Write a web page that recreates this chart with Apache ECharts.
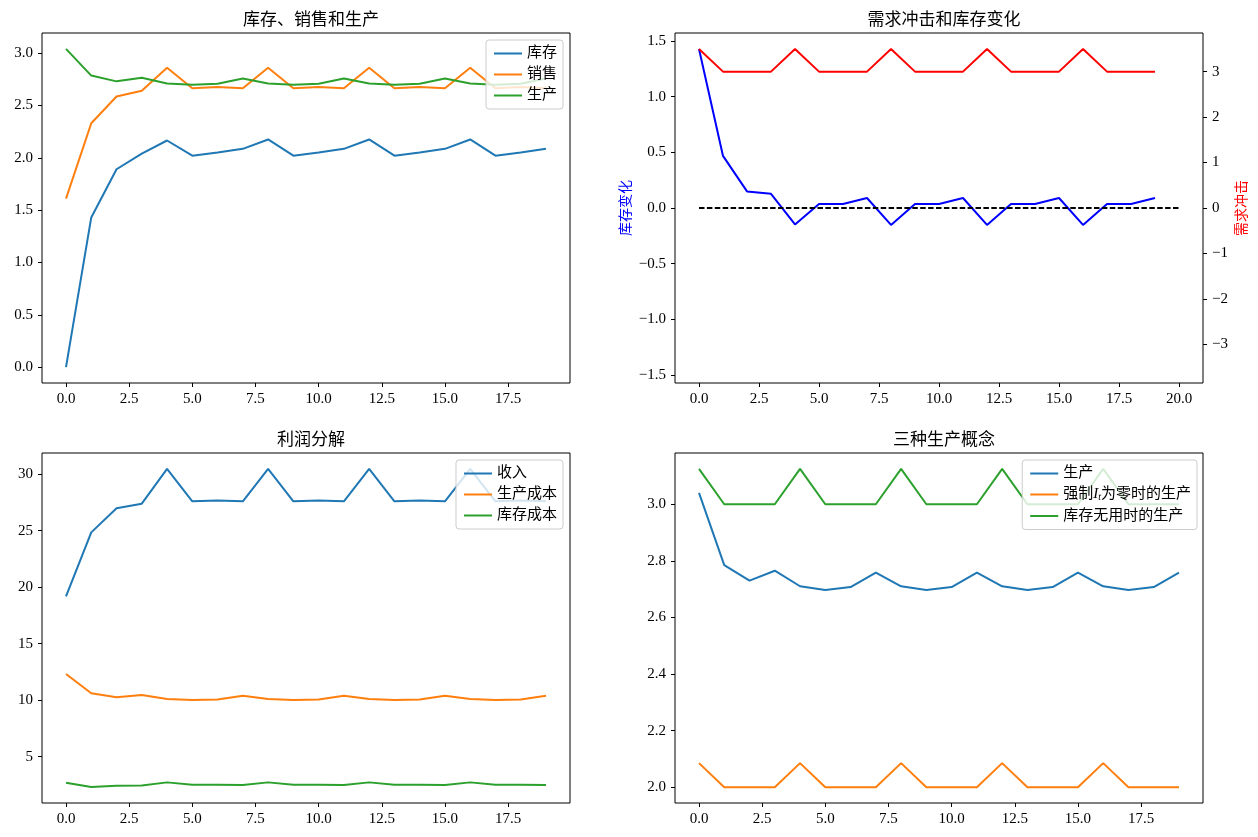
<!DOCTYPE html>
<html>
<head>
<meta charset="utf-8">
<script src="https://cdn.jsdelivr.net/npm/echarts@6/dist/echarts.min.js"></script>
<style>
    html, body { margin: 0; padding: 0; background: #fff; }
    #chart { width: 1258px; height: 837px; }
</style>
</head>
<body>
<div id="chart"></div>
<script>
// 时间轴
const periods = [0, 1, 2, 3, 4, 5, 6, 7, 8, 9, 10, 11, 12, 13, 14, 15, 16, 17, 18, 19];

// 库存、销售和生产
const inventory = [0, 1.43, 1.89, 2.04, 2.165, 2.02, 2.05, 2.085, 2.175, 2.02, 2.05, 2.085, 2.175, 2.02, 2.05, 2.085, 2.175, 2.02, 2.05, 2.085];
const sales = [1.61, 2.33, 2.585, 2.64, 2.86, 2.665, 2.675, 2.665, 2.86, 2.665, 2.675, 2.665, 2.86, 2.665, 2.675, 2.665, 2.86, 2.665, 2.675, 2.665];
const production = [3.04, 2.785, 2.73, 2.765, 2.71, 2.697, 2.707, 2.758, 2.71, 2.697, 2.707, 2.758, 2.71, 2.697, 2.707, 2.758, 2.71, 2.697, 2.707, 2.758];

// 需求冲击和库存变化
const inventoryChange = [1.43, 0.468, 0.149, 0.128, -0.148, 0.036, 0.036, 0.09, -0.152, 0.036, 0.036, 0.09, -0.152, 0.036, 0.036, 0.09, -0.152, 0.036, 0.036, 0.09];
const demandShock = [3.5, 3, 3, 3, 3.5, 3, 3, 3, 3.5, 3, 3, 3, 3.5, 3, 3, 3, 3.5, 3, 3, 3];
const zeroLineX = [0, 20];
const zeroLineY = [0, 0];

// 利润分解
const revenue = [19.17, 24.84, 26.97, 27.38, 30.45, 27.59, 27.65, 27.59, 30.45, 27.59, 27.65, 27.59, 30.45, 27.59, 27.65, 27.59, 30.45, 27.59, 27.65, 27.59];
const productionCost = [12.32, 10.61, 10.26, 10.46, 10.11, 10.02, 10.05, 10.40, 10.11, 10.02, 10.05, 10.40, 10.11, 10.02, 10.05, 10.40, 10.11, 10.02, 10.05, 10.40];
const inventoryCost = [2.70, 2.32, 2.43, 2.46, 2.73, 2.52, 2.52, 2.49, 2.73, 2.52, 2.52, 2.49, 2.73, 2.52, 2.52, 2.49, 2.73, 2.52, 2.52, 2.49];

// 三种生产概念
const prodZeroInventory = [2.085, 2, 2, 2, 2.085, 2, 2, 2, 2.085, 2, 2, 2, 2.085, 2, 2, 2, 2.085, 2, 2, 2];
const prodNoInventory = [3.125, 3, 3, 3, 3.125, 3, 3, 3, 3.125, 3, 3, 3, 3.125, 3, 3, 3, 3.125, 3, 3, 3];

// 刻度
const xTicks = [0, 2.5, 5, 7.5, 10, 12.5, 15, 17.5];
const xTicksShock = [0, 2.5, 5, 7.5, 10, 12.5, 15, 17.5, 20];
const yTicksStock = [0, 0.5, 1, 1.5, 2, 2.5, 3];
const yTicksChange = [-1.5, -1, -0.5, 0, 0.5, 1, 1.5];
const yTicksShock = [-3, -2, -1, 0, 1, 2, 3];
const yTicksProfit = [5, 10, 15, 20, 25, 30];
const yTicksProd = [2.0, 2.2, 2.4, 2.6, 2.8, 3.0];

const FONT = "'Liberation Serif', 'Noto Sans CJK SC', serif";
const C_BLUE = '#1f77b4', C_ORANGE = '#ff7f0e', C_GREEN = '#2ca02c';

const pairs = (xs, ys) => xs.map((x, i) => [x, ys[i]]);
const minus = v => String(v).replace('-', '\u2212');

function xAxis(gridIndex, min, max, ticks) {
    return {
        type: 'value', gridIndex, min, max,
        axisLine: { show: false, onZero: false },
        splitLine: { show: false },
        axisTick: { show: true, length: 4, customValues: ticks, lineStyle: { color: '#000' } },
        axisLabel: {
            customValues: ticks, margin: 9, color: '#000', fontSize: 15, fontFamily: FONT,
            formatter: v => v.toFixed(1)
        }
    };
}

function yAxis(gridIndex, min, max, ticks, fmt, extra) {
    return Object.assign({
        type: 'value', gridIndex, min, max,
        axisLine: { show: false, onZero: false },
        splitLine: { show: false },
        axisTick: { show: true, length: 4, customValues: ticks, lineStyle: { color: '#000' } },
        axisLabel: {
            customValues: ticks, margin: 9, color: '#000', fontSize: 15, fontFamily: FONT,
            formatter: fmt
        }
    }, extra || {});
}

function line(name, xi, yi, ys, color, extra) {
    return Object.assign({
        name, type: 'line', xAxisIndex: xi, yAxisIndex: yi,
        data: pairs(periods, ys), symbol: 'none', showSymbol: false,
        lineStyle: { color, width: 2 }, itemStyle: { color }
    }, extra || {});
}

const legendLabels = {
    '生产B': '生产',
    '强制为零': '强制{it|I}{sub|t}为零时的生产',
    '库存无用': '库存无用时的生产'
};

function legend(data, right, top) {
    return {
        data, orient: 'vertical', right, top,
        icon: 'rect', itemWidth: 28, itemHeight: 2, itemGap: 6,
        padding: [6, 6, 6, 8],
        backgroundColor: 'rgba(255,255,255,0.8)',
        borderColor: '#cccccc', borderWidth: 1, borderRadius: 3,
        selectedMode: false,
        textStyle: {
            fontSize: 15, fontFamily: FONT, color: '#000', lineHeight: 15,
            rich: {
                it: { fontSize: 15, fontStyle: 'italic', fontFamily: FONT, color: '#000' },
                sub: { fontSize: 10, fontStyle: 'italic', fontFamily: FONT, color: '#000', padding: [6, 0, 0, 0] }
            }
        },
        formatter: name => legendLabels[name] || name
    };
}

const titleStyle = { fontSize: 17, fontWeight: 'normal', fontFamily: FONT, color: '#000' };

const grids = [
    { left: 42, top: 33, width: 528, height: 350 },
    { left: 675, top: 33, width: 528, height: 350 },
    { left: 42, top: 453, width: 528, height: 350 },
    { left: 675, top: 453, width: 528, height: 350 }
].map(g => Object.assign(g, { show: true, borderColor: '#000', borderWidth: 1, backgroundColor: 'transparent' }));

const option = {
    animation: false,
    backgroundColor: '#fff',
    title: [
        { text: '库存、销售和生产', left: 306, top: 7, textAlign: 'center', textStyle: titleStyle },
        { text: '需求冲击和库存变化', left: 939, top: 7, textAlign: 'center', textStyle: titleStyle },
        { text: '利润分解', left: 306, top: 427, textAlign: 'center', textStyle: titleStyle },
        { text: '三种生产概念', left: 939, top: 427, textAlign: 'center', textStyle: titleStyle }
    ],
    grid: grids,
    xAxis: [
        xAxis(0, -0.95, 19.95, xTicks),
        xAxis(1, -1, 21, xTicksShock),
        xAxis(2, -0.95, 19.95, xTicks),
        xAxis(3, -0.95, 19.95, xTicks)
    ],
    yAxis: [
        yAxis(0, -0.152, 3.192, yTicksStock, v => v.toFixed(1)),
        yAxis(1, -1.573, 1.573, yTicksChange, v => minus(v.toFixed(1)), {
            name: '库存变化', nameLocation: 'middle', nameGap: 42, nameRotate: 90,
            nameTextStyle: { color: '#0000ff', fontSize: 14, fontFamily: FONT }
        }),
        yAxis(1, -3.85, 3.85, yTicksShock, v => minus(v), {
            position: 'right',
            name: '需求冲击', nameLocation: 'middle', nameGap: 32, nameRotate: 90,
            nameTextStyle: { color: '#ff0000', fontSize: 14, fontFamily: FONT }
        }),
        yAxis(2, 0.906, 31.86, yTicksProfit, v => String(v)),
        yAxis(3, 1.944, 3.181, yTicksProd, v => v.toFixed(1))
    ],
    legend: [
        legend(['库存', '销售', '生产'], 695, 40),
        legend(['收入', '生产成本', '库存成本'], 695, 460),
        legend(['生产B', '强制为零', '库存无用'], 61, 460)
    ],
    series: [
        line('库存', 0, 0, inventory, C_BLUE),
        line('销售', 0, 0, sales, C_ORANGE),
        line('生产', 0, 0, production, C_GREEN),

        line('库存变化', 1, 1, inventoryChange, '#0000ff'),
        {
            name: '零线', type: 'line', xAxisIndex: 1, yAxisIndex: 1,
            data: pairs(zeroLineX, zeroLineY), symbol: 'none',
            lineStyle: { color: '#000', width: 2, type: [5.5, 2.4] }
        },
        line('需求冲击', 1, 2, demandShock, '#ff0000'),

        line('收入', 2, 3, revenue, C_BLUE),
        line('生产成本', 2, 3, productionCost, C_ORANGE),
        line('库存成本', 2, 3, inventoryCost, C_GREEN),

        line('生产B', 3, 4, production, C_BLUE),
        line('强制为零', 3, 4, prodZeroInventory, C_ORANGE),
        line('库存无用', 3, 4, prodNoInventory, C_GREEN)
    ]
};

const chart = echarts.init(document.getElementById('chart'));
chart.setOption(option);
</script>
</body>
</html>
